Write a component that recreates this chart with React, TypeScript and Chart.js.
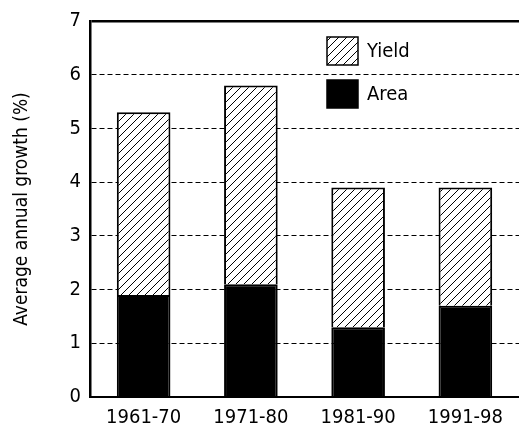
import { useEffect, useRef } from "react";
import { Chart, registerables } from "chart.js";

Chart.register(...registerables);

const categories = ["1961-70", "1971-80", "1981-90", "1991-98"];
const areaValues = [1.9, 2.1, 1.3, 1.7];
const yieldValues = [3.4, 3.7, 2.6, 2.2];
const yTicks = [0, 1, 2, 3, 4, 5, 6, 7];
const yTitle = "Average annual growth (%)";
const areaLabel = "Area";
const yieldLabel = "Yield";

const FONT = "'Liberation Sans Narrow', 'DejaVu Sans Condensed', 'Roboto', sans-serif";

function makeHatch(): CanvasPattern | string {
  const c = document.createElement("canvas");
  const s = 8;
  c.width = s;
  c.height = s;
  const g = c.getContext("2d");
  if (!g) return "#fff";
  g.fillStyle = "#fff";
  g.fillRect(0, 0, s, s);
  g.strokeStyle = "#000";
  g.lineWidth = 1;
  g.beginPath();
  g.moveTo(0, s);
  g.lineTo(s, 0);
  g.moveTo(-1, 1);
  g.lineTo(1, -1);
  g.moveTo(s - 1, s + 1);
  g.lineTo(s + 1, s - 1);
  g.stroke();
  const p = g.createPattern(c, "repeat");
  return p || "#fff";
}

const legendPlugin = {
  id: "insideLegend",
  afterDraw(chart: any) {
    const { ctx, chartArea } = chart;
    const x = chartArea.left + 237;
    let y = chartArea.top + 16;
    const items = [chart.data.datasets[1], chart.data.datasets[0]];
    ctx.save();
    items.forEach((ds: any) => {
      ctx.fillStyle = ds.backgroundColor;
      ctx.fillRect(x, y, 31, 28);
      ctx.lineWidth = 1.5;
      ctx.strokeStyle = "#000";
      ctx.strokeRect(x, y, 31, 28);
      ctx.fillStyle = "#000";
      ctx.font = `20px ${FONT}`;
      ctx.textBaseline = "middle";
      ctx.textAlign = "left";
      ctx.fillText(ds.label, x + 40, y + 15);
      y += 43;
    });
    ctx.restore();
  },
};

export default function App() {
  const ref = useRef<HTMLCanvasElement>(null);

  useEffect(() => {
    if (!ref.current) return;
    const hatch = makeHatch();
    const chart = new Chart(ref.current, {
      type: "bar",
      data: {
        labels: categories,
        datasets: [
          {
            label: areaLabel,
            data: areaValues,
            backgroundColor: "#000",
            borderColor: "#000",
            borderWidth: 2,
          },
          {
            label: yieldLabel,
            data: yieldValues,
            backgroundColor: hatch as any,
            borderColor: "#000",
            borderWidth: 2,
          },
        ],
      },
      options: {
        responsive: false,
        animation: false,
        devicePixelRatio: 1,
        layout: { padding: { top: 21, right: -2, left: 0, bottom: 0 } },
        datasets: { bar: { categoryPercentage: 1, barPercentage: 0.5 } },
        plugins: { legend: { display: false }, tooltip: { enabled: false } },
        font: { family: FONT },
        scales: {
          x: {
            stacked: true,
            grid: { display: false, drawTicks: false },
            border: { display: true, color: "#000", width: 2 },
            ticks: { color: "#000", font: { family: FONT, size: 20 }, padding: 9, maxRotation: 0 },
            afterFit: (s: any) => {
              s.height = 30;
            },
          },
          y: {
            stacked: true,
            min: 0,
            max: 7,
            afterBuildTicks: (s: any) => {
              s.ticks = yTicks.map((v) => ({ value: v }));
            },
            grid: {
              drawTicks: false,
              color: (c: any) => (c.tick && c.tick.value === 0 ? "rgba(0,0,0,0)" : "#000"),
              lineWidth: (c: any) => (c.tick && c.tick.value === 7 ? 2.5 : 1),
            },
            border: {
              display: true,
              color: "#000",
              width: 2.5,
              dash: (c: any) => (c.tick && c.tick.value === 7 ? [] : [5, 3]),
            } as any,
            ticks: { color: "#000", font: { family: FONT, size: 20 }, padding: 9 },
            title: {
              display: true,
              text: yTitle,
              color: "#000",
              font: { family: FONT, size: 19 },
              padding: { top: 11, bottom: 0 },
            },
            afterFit: (s: any) => {
              s.width = 90;
            },
          },
        },
      },
      plugins: [legendPlugin],
    });
    return () => chart.destroy();
  }, []);

  return (
    <div style={{ position: "fixed", left: 0, top: 0, width: 519, height: 427, background: "#fff" }}>
      <canvas ref={ref} width={519} height={427} />
    </div>
  );
}
